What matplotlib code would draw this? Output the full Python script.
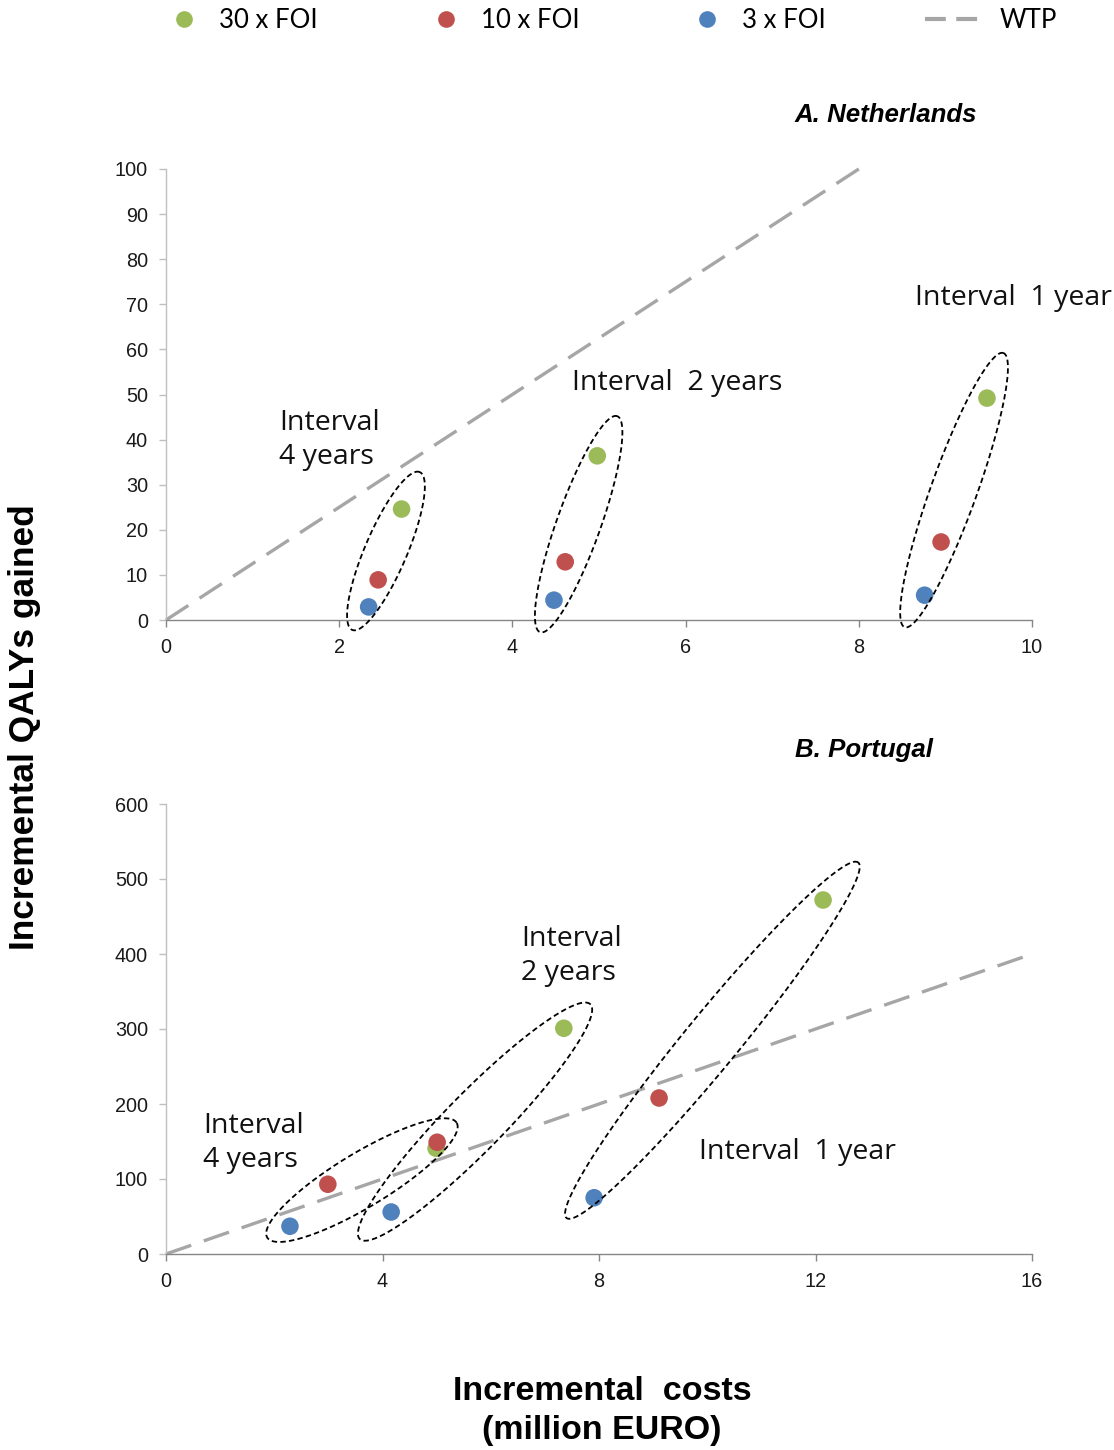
import numpy as np
import matplotlib
matplotlib.use("Agg")
import matplotlib.pyplot as plt
from matplotlib.lines import Line2D

# ---------------- data ----------------
series = ["30 x FOI", "10 x FOI", "3 x FOI"]
colors = ["#9BBB59", "#C0504D", "#4F81BD"]
intervals = ["Interval 1 year", "Interval 2 years", "Interval 4 years"]

# Netherlands: cost (million EURO), QALYs; order per series: [1 yr, 2 yr, 4 yr]
nl_cost = {"30 x FOI": [9.48, 4.98, 2.72],
           "10 x FOI": [8.95, 4.61, 2.45],
           "3 x FOI":  [8.76, 4.48, 2.34]}
nl_qaly = {"30 x FOI": [49.2, 36.4, 24.6],
           "10 x FOI": [17.3, 12.9, 8.9],
           "3 x FOI":  [5.5, 4.4, 2.9]}
# Portugal
pt_cost = {"30 x FOI": [12.14, 7.35, 4.99],
           "10 x FOI": [9.11, 5.01, 2.99],
           "3 x FOI":  [7.91, 4.16, 2.29]}
pt_qaly = {"30 x FOI": [472, 301, 141],
           "10 x FOI": [208, 149, 93],
           "3 x FOI":  [75, 56, 37]}

wtp_nl = 80000   # EURO per QALY
wtp_pt = 40000

nl_xticks = [0, 2, 4, 6, 8, 10]
nl_yticks = list(range(0, 101, 10))
pt_xticks = [0, 4, 8, 12, 16]
pt_yticks = list(range(0, 601, 100))

W, H = 1114, 1450
fig = plt.figure(figsize=(W / 100, H / 100), dpi=100)


def fx(x):
    return x / W


def fy(y):
    return 1 - y / H


ax1 = fig.add_axes([fx(166), fy(620), fx(1032) - fx(166), fy(169) - fy(620)])
ax2 = fig.add_axes([fx(166), fy(1254), fx(1032) - fx(166), fy(804) - fy(1254)])

tick_font = dict(family="Liberation Sans", size=14.3)
wtp_color = "#A6A6A6"


def style(ax, xt, yt):
    ax.set_xlim(xt[0], xt[-1])
    ax.set_ylim(yt[0], yt[-1])
    ax.set_xticks(xt)
    ax.set_yticks(yt)
    for s in ["top", "right"]:
        ax.spines[s].set_visible(False)
    ax.spines["left"].set_color("#BFBFBF")
    ax.spines["bottom"].set_color("#868686")
    ax.spines["left"].set_linewidth(1.0)
    ax.spines["bottom"].set_linewidth(1.0)
    ax.tick_params(axis="y", direction="out", length=5, width=1,
                   color="#BFBFBF", pad=8)
    ax.tick_params(axis="x", direction="out", length=5, width=1,
                   color="#868686", pad=8)
    for lab in ax.get_xticklabels() + ax.get_yticklabels():
        lab.set_fontfamily(tick_font["family"])
        lab.set_fontsize(tick_font["size"])
        lab.set_color("#1a1a1a")


style(ax1, nl_xticks, nl_yticks)
style(ax2, pt_xticks, pt_yticks)


def wtp_line(ax, wtp, xt, yt):
    xmax = min(xt[-1], yt[-1] * wtp / 1e6)
    xs = np.array([0, xmax])
    ax.plot(xs, xs * 1e6 / wtp, color=wtp_color, lw=2.4,
            dashes=(8, 4), zorder=2, solid_capstyle="butt",
            dash_capstyle="butt", clip_on=False)


wtp_line(ax1, wtp_nl, nl_xticks, nl_yticks)
wtp_line(ax2, wtp_pt, pt_xticks, pt_yticks)

for ax, cost, qaly in [(ax1, nl_cost, nl_qaly), (ax2, pt_cost, pt_qaly)]:
    # draw order: blue, green, red (red sits over green in Portugal)
    for s in ["3 x FOI", "30 x FOI", "10 x FOI"]:
        c = colors[series.index(s)]
        ax.scatter(cost[s], qaly[s], s=160, color=c, edgecolors="none",
                   zorder=4, clip_on=False)


# ---------------- ellipses (annotation shapes) ----------------
def ellipse(ax, p0, p1, half_w_px):
    fig.canvas.draw()
    t = ax.transData
    a = t.transform(p0)
    b = t.transform(p1)
    c = (a + b) / 2
    d = b - a
    L = np.hypot(*d) / 2
    u = d / np.hypot(*d)
    v = np.array([-u[1], u[0]])
    th = np.linspace(0, 2 * np.pi, 400)
    pts = c + np.outer(L * np.cos(th), u) + np.outer(half_w_px * np.sin(th), v)
    dpts = t.inverted().transform(pts)
    ax.plot(dpts[:, 0], dpts[:, 1], color="black", lw=1.3,
            dashes=(3, 1.8), zorder=5, clip_on=False)


# Netherlands ellipses: tips in data coords
ellipse(ax1, (2.15, -2.2), (2.93, 32.8), 21)
ellipse(ax1, (4.32, -2.7), (5.21, 45.2), 22)
ellipse(ax1, (8.53, -1.6), (9.67, 59.2), 23)
# Portugal ellipses
ellipse(ax2, (1.87, 22), (5.37, 175), 27)
ellipse(ax2, (3.58, 20), (7.84, 333), 29)
ellipse(ax2, (7.40, 48), (12.79, 522), 27)

# ---------------- annotation texts ----------------
ann_font = dict(family="Open Sans", size=20.5, color="#111111")
fig.text(fx(279), fy(440), "Interval\n4 years", ha="left", va="center",
         linespacing=1.25, **ann_font)
fig.text(fx(572), fy(383), "Interval  2 years", ha="left", va="center", **ann_font)
fig.text(fx(915), fy(298), "Interval  1 year", ha="left", va="center", **ann_font)
fig.text(fx(521), fy(956), "Interval\n2 years", ha="left", va="center",
         linespacing=1.25, **ann_font)
fig.text(fx(203), fy(1143), "Interval\n4 years", ha="left", va="center",
         linespacing=1.25, **ann_font)
fig.text(fx(699), fy(1152), "Interval  1 year", ha="left", va="center", **ann_font)

title_font = dict(family="Liberation Sans", size=18.6, weight="bold",
                  style="italic", color="black")
fig.text(fx(795), fy(115), "A. Netherlands", ha="left", va="center", **title_font)
fig.text(fx(795), fy(750), "B. Portugal", ha="left", va="center", **title_font)

# axis labels
lab_font = dict(family="Liberation Sans", weight="bold", color="black")
fig.text(fx(25), fy(727), "Incremental QALYs gained", rotation=90,
         ha="center", va="center", fontsize=25.4, **lab_font)
fig.text(fx(602), fy(1411), "Incremental  costs\n(million EURO)",
         ha="center", va="center", linespacing=1.35, fontsize=24.5, **lab_font)

# ---------------- legend ----------------
leg_font = dict(family="Lato", size=18.5)
leg_handles = [Line2D([], [], ls="none", marker="o", ms=12, mfc=c, mec="none")
               for c in colors]
leg_handles.append(Line2D([], [], color=wtp_color, lw=3, dashes=(5, 2.5)))
leg_labels = series + ["WTP"]
leg_x = [171, 433, 694, 925]
for h, l, x in zip(leg_handles, leg_labels, leg_x):
    is_line = (l == "WTP")
    fig.legend(handles=[h], labels=[l], loc="center left",
               bbox_to_anchor=(fx(x), fy(20)), frameon=False,
               prop=leg_font,
               handlelength=2.35 if is_line else 1.0,
               handletextpad=0.55 if is_line else 0.85,
               borderaxespad=0, borderpad=0)

fig.savefig("out.png", dpi=100)
